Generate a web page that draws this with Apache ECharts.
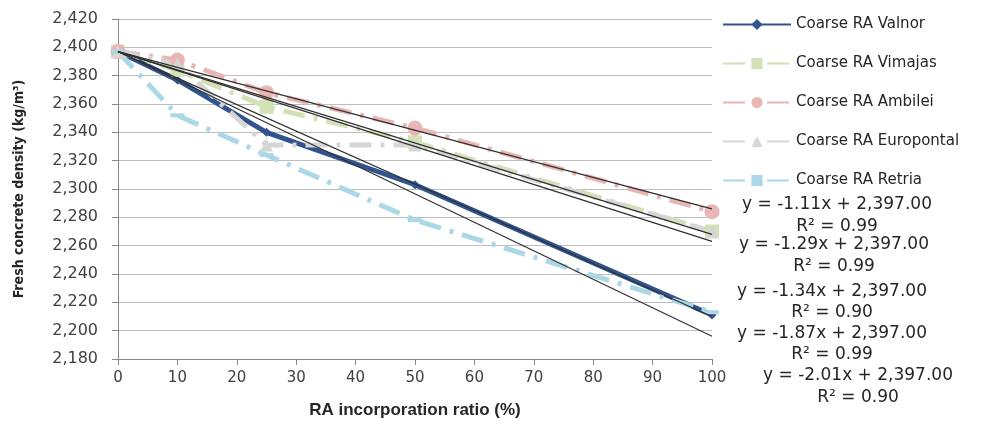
<!DOCTYPE html>
<html>
<head>
<meta charset="UTF-8">
<title>Fresh concrete density</title>
<script src="https://cdn.jsdelivr.net/npm/echarts@6/dist/echarts.min.js"></script>
<style>
  html, body { margin: 0; padding: 0; background: #fff; }
  #chart { width: 1007px; height: 426px; }
</style>
</head>
<body>
<div id="chart"></div>
<script>
// RA incorporation ratio (%)
var ratios = [0, 10, 25, 50, 100];

// density values (kg/m3)
var valnor     = [2397, 2377, 2340, 2303, 2211];
var vimajas    = [2397, 2384, 2358, 2333, 2270];
var ambilei    = [2397, 2391, 2368, 2343, 2284];
var europontal = [2397, 2388, 2331, 2331, 2270];
var retria     = [2397, 2352, 2324, 2278, 2213];

var seriesNames = ['Coarse RA Valnor', 'Coarse RA Vimajas', 'Coarse RA Ambilei', 'Coarse RA Europontal', 'Coarse RA Retria'];

// trendline slopes / R2 as printed (intercept fixed 2,397)
var trendSlopes = [-1.11, -1.29, -1.34, -1.87, -2.01];
var trendR2 = ['0.99', '0.99', '0.90', '0.99', '0.90'];
var trendIntercept = 2397;

var chart = echarts.init(document.getElementById('chart'));

function pairs(vals) {
  return ratios.map(function (x, i) { return [x, vals[i]]; });
}

var dashed = [22, 9, 4, 9];

var series = [
  {
    name: seriesNames[0], type: 'line', data: pairs(valnor),
    symbol: 'diamond', symbolSize: 9,
    lineStyle: { color: '#31548f', width: 5 },
    itemStyle: { color: '#31548f' }
  },
  {
    name: seriesNames[1], type: 'line', data: pairs(vimajas),
    symbol: 'rect', symbolSize: 14,
    lineStyle: { color: '#d3e2b6', width: 5, type: dashed, cap: 'butt' },
    itemStyle: { color: '#d3e2b6' }
  },
  {
    name: seriesNames[2], type: 'line', data: pairs(ambilei),
    symbol: 'circle', symbolSize: 15,
    lineStyle: { color: '#e8b6b4', width: 5, type: dashed, cap: 'butt' },
    itemStyle: { color: '#e8b6b4' }
  },
  {
    name: seriesNames[3], type: 'line', data: pairs(europontal),
    symbol: 'triangle', symbolSize: 13,
    lineStyle: { color: '#d6d6d6', width: 5, type: dashed, cap: 'butt' },
    itemStyle: { color: '#d6d6d6' }
  },
  {
    name: seriesNames[4], type: 'line', data: pairs(retria),
    symbol: 'rect', symbolSize: [14, 4],
    lineStyle: { color: '#acd7e6', width: 5, type: dashed, cap: 'butt' },
    itemStyle: { color: '#acd7e6' }
  }
];

// thin black trendlines
trendSlopes.forEach(function (s, i) {
  series.push({
    name: 'trend' + i, type: 'line', silent: true,
    data: [[0, trendIntercept], [100, trendIntercept + s * 100]],
    symbol: 'none',
    lineStyle: { color: '#303030', width: 1.2 },
    z: 5
  });
});

// trendline equation labels: [centre x, equation y, R2 y]
var eqPos = [[837, 205, 227], [834, 245, 267], [832, 292, 313], [832, 334, 355], [858, 376, 398]];
var labelFont = '17px "DejaVu Sans"';
var graphics = [];
trendSlopes.forEach(function (s, i) {
  graphics.push({
    type: 'text', x: eqPos[i][0], y: eqPos[i][1],
    style: {
      text: 'y = ' + s.toFixed(2) + 'x + ' + trendIntercept.toLocaleString('en-US') + '.00',
      align: 'center', verticalAlign: 'middle', font: labelFont, fill: '#262626'
    }
  });
  graphics.push({
    type: 'text', x: eqPos[i][0], y: eqPos[i][2],
    style: {
      text: 'R\u00b2 = ' + trendR2[i],
      align: 'center', verticalAlign: 'middle', font: labelFont, fill: '#262626'
    }
  });
});

var option = {
  animation: false,
  grid: { left: 118, right: 295, top: 19, bottom: 67 },
  legend: {
    data: seriesNames,
    orient: 'vertical',
    left: 717, top: 12,
    itemWidth: 68, itemHeight: 14, itemGap: 24,
    textStyle: { fontFamily: 'DejaVu Sans', fontSize: 15, color: '#262626' }
  },
  xAxis: {
    type: 'value', min: 0, max: 100, interval: 10,
    name: 'RA incorporation ratio (%)', nameLocation: 'middle', nameGap: 43,
    nameTextStyle: { fontFamily: 'Liberation Sans', fontWeight: 'bold', fontSize: 17, color: '#262626' },
    axisLine: { show: true, lineStyle: { color: '#888', width: 1 } },
    axisTick: { show: true, length: 6, lineStyle: { color: '#888' } },
    axisLabel: { fontFamily: 'DejaVu Sans', fontSize: 15, color: '#404040', margin: 12 },
    splitLine: { show: false }
  },
  yAxis: {
    type: 'value', min: 2180, max: 2420, interval: 20,
    name: 'Fresh concrete density (kg/m\u00b3)', nameLocation: 'middle', nameGap: 92, nameRotate: 90,
    nameTextStyle: { fontFamily: '"DejaVu Sans Condensed", "Liberation Sans"', fontWeight: 'bold', fontSize: 14, color: '#262626' },
    axisLine: { show: true, lineStyle: { color: '#888', width: 1 } },
    axisTick: { show: true, length: 6, lineStyle: { color: '#888' } },
    axisLabel: {
      fontFamily: 'DejaVu Sans', fontSize: 16, color: '#404040', margin: 20,
      formatter: function (v) { return v.toLocaleString('en-US'); }
    },
    splitLine: { show: true, lineStyle: { color: '#bdbdbd', width: 1 } }
  },
  graphic: graphics,
  series: series
};

chart.setOption(option);
</script>
</body>
</html>
